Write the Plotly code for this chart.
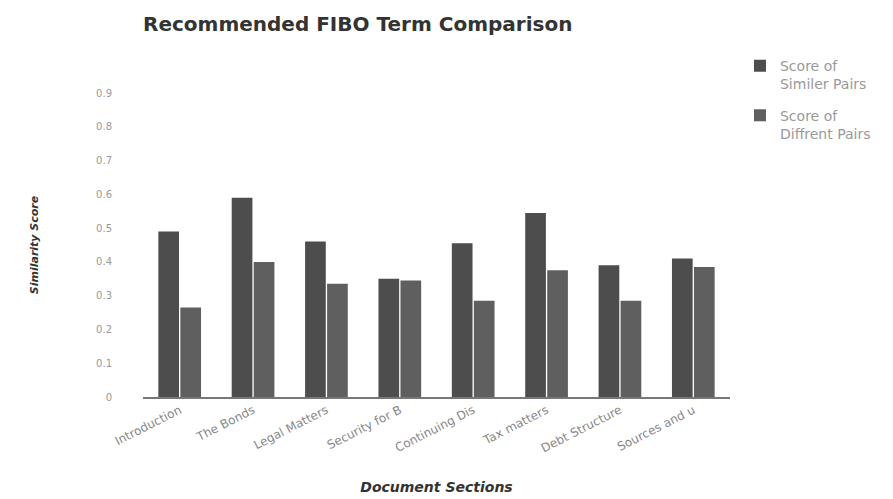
import plotly.graph_objects as go

# Document sections and similarity scores
sections = ["Introduction", "The Bonds", "Legal Matters", "Security for B",
            "Continuing Dis", "Tax matters", "Debt Structure", "Sources and u"]
similar_scores = [0.49, 0.59, 0.46, 0.35, 0.455, 0.545, 0.39, 0.41]
different_scores = [0.265, 0.40, 0.335, 0.345, 0.285, 0.375, 0.285, 0.385]
y_ticks = [0, 0.1, 0.2, 0.3, 0.4, 0.5, 0.6, 0.7, 0.8, 0.9]

fig = go.Figure()
fig.add_trace(go.Bar(x=sections, y=similar_scores, name="Score of<br>Similer Pairs",
                     legendgroup="similar",
                     marker=dict(color="#4d4d4d", line=dict(width=0))))
fig.add_trace(go.Bar(x=sections, y=different_scores, name="Score of<br>Diffrent Pairs",
                     legendgroup="different",
                     marker=dict(color="#5f5f5f", line=dict(width=0))))

fig.update_layout(
    width=893, height=499,
    margin=dict(l=143, r=163, t=93, b=102),
    paper_bgcolor="white", plot_bgcolor="white",
    barmode="group", bargap=0.40, bargroupgap=0.06,
    title=dict(text="<b>Recommended FIBO Term Comparison</b>",
               x=143 / 893, xanchor="left", y=1 - 24 / 499, yanchor="middle",
               font=dict(family="DejaVu Sans", size=20, color="#333333")),
    font=dict(family="DejaVu Sans", color="#888888"),
    legend=dict(x=1.017, xanchor="left", y=1.141, yanchor="top", valign="top",
                font=dict(family="DejaVu Sans", size=14, color="#999999"),
                tracegroupgap=10, bgcolor="rgba(0,0,0,0)"),
    showlegend=True,
)
fig.update_xaxes(
    automargin=False,
    showline=True, linecolor="#777777", linewidth=1.5, ticks="",
    tickangle=-27, tickfont=dict(size=12, color="#888888"),
    title=dict(text="<b><i>Document Sections</i></b>", standoff=28,
               font=dict(size=14, color="#333333")),
)
fig.update_yaxes(
    automargin=False,
    range=[0, 0.9], tickvals=y_ticks, showgrid=False, zeroline=False,
    showline=False, ticks="", ticklabelstandoff=30,
    tickfont=dict(size=10, color="#999999"),
    title=dict(text="<b><i>Similarity Score</i></b>", standoff=55,
               font=dict(size=11, color="#333333")),
)

fig.write_html("out.html")
